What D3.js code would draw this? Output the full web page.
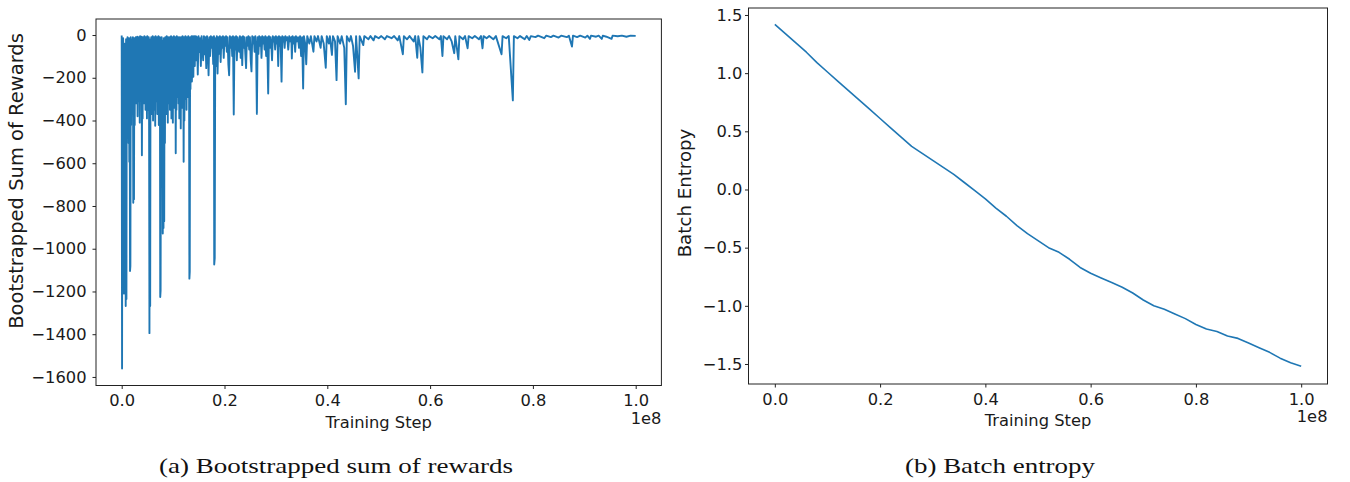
<!DOCTYPE html>
<html><head><meta charset="utf-8">
<script src="https://cdn.jsdelivr.net/npm/d3@7"></script>
<style>body{margin:0;background:#fff}svg{display:block}</style>
</head><body>
<svg id="c" width="1350" height="482"></svg>
<script>
// ---- data (training steps in millions; axis shows them in units of 1e8) ----
const stepTicks = [0, 20, 40, 60, 80, 100];
const rewardTicks = [0, -200, -400, -600, -800, -1000, -1200, -1400, -1600];
const entropyTicks = [1.5, 1.0, 0.5, 0.0, -0.5, -1.0, -1.5];
const captions = ["(a) Bootstrapped sum of rewards", "(b) Batch entropy"];

// bootstrapped sum of rewards: [step (M), value]
const rewardSeries = [
[0,-2],[0.07,-1561],[0.14,-30],[0.21,-410],[0.28,-15],[0.35,-150],[0.42,-1210],[0.5,-1180],[0.57,-40],[0.64,-1205],
[0.71,-290],[0.78,-1268],[0.85,-20],[0.92,-1235],[0.99,-60],[1.06,-340],[1.13,-10],[1.2,-272],[1.27,-25],[1.34,-505],
[1.41,-15],[1.48,-593],[1.55,-40],[1.62,-1104],[1.69,-1080],[1.76,-10],[1.83,-421],[1.9,-20],[1.97,-290],[2.04,-60],
[2.11,-370],[2.18,-10],[2.25,-785],[2.32,-30],[2.39,-768],[2.46,-15],[2.53,-421],[2.6,-40],[2.67,-252],[2.74,-10],
[2.81,-320],[2.88,-25],[2.95,-195],[3.02,-8],[3.09,-380],[3.16,-30],[3.23,-245],[3.3,-10],[3.37,-310],[3.44,-50],
[3.51,-410],[3.58,-5],[3.65,-290],[3.72,-20],[3.79,-215],[3.86,-8],[3.93,-563],[4.0,-30],[4.07,-390],[4.14,-10],
[4.21,-185],[4.28,-40],[4.35,-320],[4.42,-5],[4.49,-252],[4.56,-25],[4.63,-350],[4.7,-10],[4.77,-225],[4.84,-45],
[4.91,-390],[4.98,-5],[5.05,-290],[5.12,-20],[5.19,-350],[5.26,-10],[5.33,-425],[5.4,-1395],[5.47,-60],[5.54,-1268],
[5.61,-20],[5.68,-300],[5.75,-10],[5.82,-370],[5.89,-40],[5.96,-155],[6.03,-5],[6.1,-400],[6.17,-20],[6.24,-350],
[6.31,-10],[6.38,-272],[6.45,-50],[6.52,-425],[6.59,-5],[6.66,-310],[6.73,-30],[6.8,-245],[6.87,-10],[6.94,-370],
[7.01,-20],[7.08,-290],[7.15,-5],[7.22,-421],[7.29,-40],[7.36,-340],[7.43,-10],[7.5,-1226],[7.57,-1195],[7.64,-30],
[7.71,-252],[7.78,-10],[7.85,-390],[7.92,-60],[7.99,-929],[8.06,-25],[8.13,-903],[8.2,-15],[8.27,-871],[8.34,-40],
[8.41,-505],[8.48,-10],[8.55,-300],[8.62,-15],[8.69,-370],[8.76,-5],[8.83,-252],[8.9,-50],[8.97,-410],[9.04,-10],
[9.11,-320],[9.18,-20],[9.25,-290],[9.32,-10],[9.39,-350],[9.46,-40],[9.53,-245],[9.6,-5],[9.67,-390],[9.74,-25],
[9.81,-290],[9.88,-10],[9.95,-410],[10.02,-30],[10.09,-252],[10.16,-5],[10.23,-340],[10.3,-20],[10.37,-290],[10.44,-10],
[10.51,-553],[10.58,-40],[10.65,-350],[10.72,-5],[10.79,-290],[10.86,-20],[10.93,-245],[11.0,-10],[11.07,-320],[11.14,-50],
[11.21,-390],[11.28,-10],[11.35,-282],[11.42,-25],[11.49,-437],[11.56,-10],[11.63,-252],[11.7,-40],[11.77,-340],[11.84,-5],
[11.91,-272],[11.98,-20],[12.05,-593],[12.12,-10],[12.19,-400],[12.26,-30],[12.33,-300],[12.4,-5],[12.47,-245],[12.54,-40],
[12.61,-350],[12.68,-10],[12.75,-185],[12.82,-25],[12.89,-290],[12.96,-5],[13.03,-225],[13.1,-40],[13.17,-1140],[13.24,-1107],
[13.31,-10],[13.38,-252],[13.45,-20],[13.52,-155],[13.59,-5],[13.66,-218],[13.73,-30],[13.8,-118],[13.87,-5],[13.94,-195],
[14.01,-10],[14.08,-90],[14.15,-5],[14.22,-145],[14.29,-20],[14.36,-60],[14.43,-5],
[14.5,-118],[14.65,-10],[14.8,-185],[14.95,-5],[15.1,-80],[15.25,-15],[15.4,-145],[15.55,-5],[15.7,-60],[15.85,-118],
[16.0,-5],[16.15,-90],[16.3,-10],[16.45,-155],[16.6,-5],[16.75,-40],[16.9,-188],[17.05,-10],[17.2,-98],[17.35,-5],
[17.5,-60],[17.65,-10],[17.8,-136],[17.95,-5],[18.0,-1074],[18.1,-1044],[18.2,-15],[18.35,-145],[18.5,-5],[18.65,-180],
[18.8,-10],[18.95,-88],[19.1,-5],[19.25,-126],[19.4,-10],[19.55,-60],[19.7,-5],[19.85,-107],[20.0,-10],[20.15,-50],
[20.3,-5],[20.45,-78],[20.6,-10],[20.75,-136],[20.9,-188],[21.05,-5],[21.2,-60],[21.35,-10],[21.5,-98],[21.65,-5],
[21.8,-372],[21.95,-10],[22.1,-68],[22.25,-5],[22.4,-118],[22.55,-10],[22.7,-40],[22.85,-78],[23.0,-5],[23.15,-107],
[23.3,-10],[23.45,-141],[23.6,-5],[23.75,-60],[23.9,-10],[24.05,-88],[24.2,-155],[24.35,-10],[24.5,-50],[24.65,-5],
[24.8,-68],[24.95,-10],[25.1,-118],[25.25,-170],[25.4,-5],[25.55,-40],[25.7,-10],[25.85,-78],[26.0,-5],[26.15,-60],
[26.3,-369],[26.45,-10],[26.6,-88],[26.75,-5],[26.9,-50],[27.05,-10],[27.2,-107],[27.35,-5],[27.5,-40],[27.65,-10],
[27.8,-68],[27.95,-5],[28.1,-98],[28.3,-10],[28.5,-274],[28.65,-5],[28.8,-60],[28.95,-10],[29.1,-40],[29.25,-118],
[29.4,-5],[29.55,-30],[29.7,-10],[29.85,-68],[30.0,-5],[30.15,-40],[30.3,-10],[30.45,-145],[30.6,-5],[30.75,-50],
[30.9,-10],[31.1,-218],[31.25,-5],[31.4,-30],[31.55,-10],[31.7,-60],[31.85,-5],[32.0,-25],[32.2,-10],[32.4,-68],
[32.6,-5],[32.8,-30],[33.0,-10],[33.1,-110],[33.25,-5],[33.45,-40],[33.6,-10],[33.75,-78],[33.9,-5],[34.1,-30],
[34.3,-10],[34.5,-60],[34.7,-5],[34.9,-98],[35.1,-10],[35.3,-250],[35.45,-5],[35.7,-40],[35.9,-137],[36.1,-5],
[36.5,-40],[36.8,-5],[37.3,-78],[37.5,-5],[37.9,-30],[38.2,-5],[38.7,-60],[38.9,-5],[39.3,-40],[39.7,-153],
[39.9,-5],[40.3,-40],[40.5,-5],[40.9,-93],[41.1,-5],[41.5,-30],[41.8,-211],[42.0,-5],[42.5,-40],[42.8,-5],
[43.3,-60],[43.6,-324],[43.8,-5],[44.3,-30],[44.6,-5],[45.0,-50],[45.4,-172],[45.6,-5],[46.1,-203],[46.3,-5],
[47.0,-47],[47.2,-5],[48.0,-20],[48.4,-5],[49.0,-25],[49.3,-5],[50.0,-15],[50.5,-5],[51.2,-20],[51.6,-5],
[52.5,-15],[53.0,-5],[53.7,-25],[54.0,-5],[54.7,-90],[54.9,-5],[55.5,-20],[56.0,-5],[56.8,-30],[57.1,-5],
[57.5,-106],[57.7,-5],[58.1,-58],[58.5,-175],[58.7,-5],[59.4,-20],[59.8,-5],[60.5,-15],[61.0,-5],[61.8,-20],
[62.1,-5],[62.4,-98],[62.6,-5],[63.3,-20],[63.7,-5],[64.2,-30],[64.7,-85],[64.9,-5],[65.5,-114],[65.7,-5],
[66.4,-20],[66.8,-5],[67.3,-62],[67.5,-5],[68.2,-15],[68.7,-5],[69.5,-20],[69.9,-5],[70.2,-62],[70.4,-5],
[71.0,-15],[71.5,-5],[72.3,-20],[72.8,-5],[73.9,-90],[74.1,-5],[74.8,-15],[75.3,-5],[76.1,-306],[76.3,-5],
[77.0,-15],[77.5,-5],[78.4,-20],[78.8,-5],[79.3,-23],[79.6,-5],[80.5,-10],[81.0,-3],[82.2,-15],[82.6,-3],
[83.5,-10],[84.0,-3],[85.0,-12],[85.5,-3],[86.6,-10],[87.0,-3],[87.6,-54],[87.8,-3],[88.6,-10],[89.2,-3],
[90.2,-12],[90.6,-3],[91.1,-18],[91.3,-3],[92.3,-8],[92.8,-3],[93.4,-18],[93.6,-3],[94.3,-8],[95.3,-18],
[95.5,-3],[96.5,-6],[97.3,-3],[98.2,-8],[99.0,-3],[100,-4]
];

// batch entropy: [step (M), value]
const entropySeries = [
[0,1.42],[2,1.34],[4,1.26],[6,1.18],[8,1.09],[10,1.01],[12,0.93],[14,0.85],[16,0.77],[18,0.69],
[20,0.61],[22,0.53],[24,0.45],[26,0.37],[28,0.31],[30,0.25],[32,0.19],[34,0.13],[36,0.06],[38,-0.01],
[40,-0.08],[42,-0.16],[44,-0.23],[46,-0.31],[48,-0.38],[50,-0.44],[52,-0.50],[54,-0.54],[56,-0.60],[58,-0.67],
[60,-0.72],[62,-0.76],[64,-0.80],[66,-0.84],[68,-0.89],[70,-0.95],[72,-1.00],[74,-1.03],[76,-1.07],[78,-1.11],
[80,-1.16],[82,-1.20],[84,-1.22],[86,-1.26],[88,-1.28],[90,-1.32],[92,-1.36],[94,-1.40],[96,-1.45],[98,-1.49],[100,-1.52]
];

const svg = d3.select("#c");
const FONT = "DejaVu Sans";
const BLUE = "#1f77b4";
const INK = "#1a1a1a";

function panel(cfg) {
  const x = d3.scaleLinear().domain([-5, 105]).range([cfg.left, cfg.right]);
  const y = d3.scaleLinear().domain(cfg.yDomain).range([cfg.top, cfg.bottom]);
  const g = svg.append("g");

  g.append("path").datum(cfg.data)
    .attr("fill", "none").attr("stroke", BLUE).attr("stroke-width", cfg.lw)
    .attr("stroke-linejoin", "round")
    .attr("d", d3.line().x(d => x(d[0])).y(d => y(d[1])));

  const xa = g.append("g").attr("transform", `translate(0,${cfg.bottom})`)
    .call(d3.axisBottom(x).tickValues(stepTicks).tickSize(3.5).tickPadding(5.8)
      .tickFormat(d => (d / 100).toFixed(1)));
  const ya = g.append("g").attr("transform", `translate(${cfg.left},0)`)
    .call(d3.axisLeft(y).tickValues(cfg.yTicks).tickSize(3.5).tickPadding(cfg.yPad)
      .tickFormat(cfg.yFmt));
  [xa, ya].forEach(a => {
    a.select(".domain").remove();
    a.selectAll("line").attr("stroke", "#222").attr("stroke-width", 1);
    a.selectAll("text").attr("fill", INK).style("font-family", FONT).style("font-size", "16.3px");
  });

  g.append("rect").attr("x", cfg.left).attr("y", cfg.top)
    .attr("width", cfg.right - cfg.left).attr("height", cfg.bottom - cfg.top)
    .attr("fill", "none").attr("stroke", "#222").attr("stroke-width", 1);

  g.append("text").attr("x", (cfg.left + cfg.right) / 2).attr("y", cfg.bottom + 42)
    .attr("text-anchor", "middle").style("font-family", FONT).style("font-size", "16.3px")
    .attr("fill", INK).text("Training Step");
  g.append("text").attr("x", cfg.right).attr("y", cfg.bottom + 38)
    .attr("text-anchor", "end").style("font-family", FONT).style("font-size", "16.3px")
    .attr("fill", INK).text("1e8");
  g.append("text").attr("transform", `translate(${cfg.yLabelX},${cfg.yLabelY}) rotate(-90)`)
    .attr("text-anchor", "middle").attr("dy", "0.35em")
    .style("font-family", FONT).style("font-size", cfg.yLabelSize + "px")
    .attr("fill", INK).text(cfg.yLabel);

  g.append("text").attr("x", cfg.capX).attr("y", 473).attr("text-anchor", "middle")
    .attr("textLength", cfg.capW).attr("lengthAdjust", "spacingAndGlyphs")
    .style("font-family", "Liberation Serif").style("font-size", "22px")
    .attr("fill", "#111").text(cfg.caption);
}

const minus = s => s.replace("-", "\u2212");

panel({
  left: 96, right: 661.4, top: 19, bottom: 385.5,
  yDomain: [75, -1640], yTicks: rewardTicks, yPad: 6, yFmt: d => minus(String(d)),
  data: rewardSeries, lw: 1.9,
  yLabel: "Bootstrapped Sum of Rewards", yLabelX: 16, yLabelY: 181, yLabelSize: 19.5,
  caption: captions[0], capX: 336, capW: 354
});
panel({
  left: 748.5, right: 1327.5, top: 8, bottom: 384,
  yDomain: [1.56, -1.672], yTicks: entropyTicks, yPad: 2.7, yFmt: d => minus(d.toFixed(1)),
  data: entropySeries, lw: 1.6,
  yLabel: "Batch Entropy", yLabelX: 685, yLabelY: 193, yLabelSize: 18.2,
  caption: captions[1], capX: 1000, capW: 190
});
</script>
</body></html>
